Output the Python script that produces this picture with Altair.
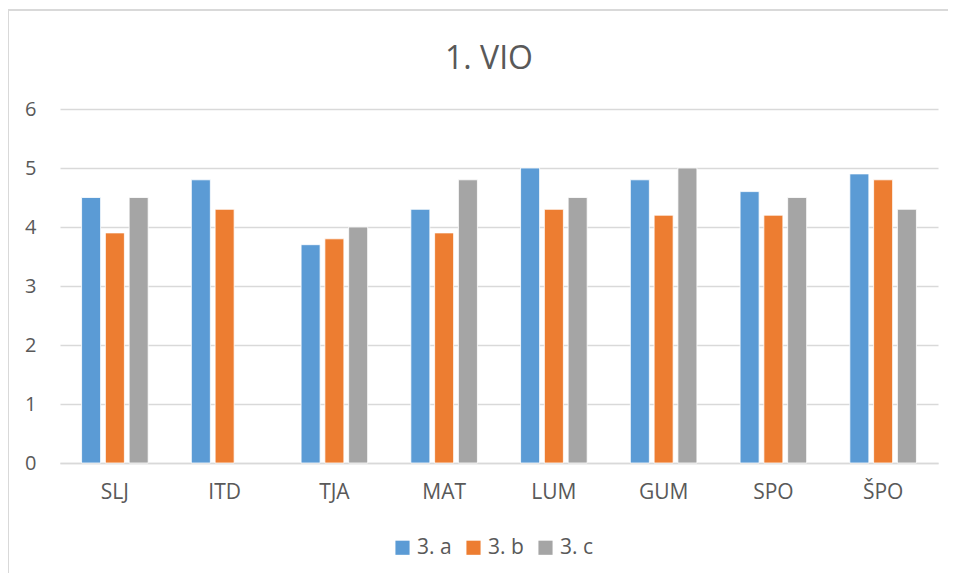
import altair as alt
import pandas as pd

categories = ["SLJ", "ITD", "TJA", "MAT", "LUM", "GUM", "SPO", "ŠPO"]
series = ["3. a", "3. b", "3. c"]
vals_a = [4.5, 4.8, 3.7, 4.3, 5.0, 4.8, 4.6, 4.9]
vals_b = [3.9, 4.3, 3.8, 3.9, 4.3, 4.2, 4.2, 4.8]
vals_c = [4.5, None, 4.0, 4.8, 4.5, 5.0, 4.5, 4.3]
colors = ["#5B9BD5", "#ED7D31", "#A5A5A5"]
y_ticks = [0, 1, 2, 3, 4, 5, 6]
title_text = "1. VIO"

rows = []
for s, vals in zip(series, [vals_a, vals_b, vals_c]):
    for c, v in zip(categories, vals):
        if v is not None:
            rows.append({"cat": c, "series": s, "value": v})
df = pd.DataFrame(rows)

FONT = "Open Sans"
TXT = "#595959"

bars = alt.Chart(df).mark_bar(stroke="white", strokeWidth=0.8).encode(
    x=alt.X("cat:N", sort=categories, title=None,
            scale=alt.Scale(paddingInner=0.35, paddingOuter=0.175),
            axis=alt.Axis(labelAngle=0, labelFontSize=21, labelColor=TXT,
                          labelFont=FONT, labelPadding=18, ticks=False,
                          domainColor="#D9D9D9", domainWidth=1.5)),
    xOffset=alt.XOffset("series:N", sort=series,
                        scale=alt.Scale(domain=series, paddingInner=0.2, paddingOuter=0.1)),
    y=alt.Y("value:Q", title=None,
            scale=alt.Scale(domain=[0, 6]),
            axis=alt.Axis(values=y_ticks, labelFontSize=20, labelColor=TXT,
                          labelFont=FONT, labelPadding=24, ticks=False, domain=False,
                          gridColor="#D9D9D9", gridWidth=1.5)),
    color=alt.Color("series:N", sort=series,
                    scale=alt.Scale(domain=series, range=colors),
                    legend=alt.Legend(title=None, orient="none", direction="horizontal",
                                      legendX=332, legendY=428,
                                      symbolType="square", symbolSize=200,
                                      symbolStrokeWidth=0, labelFontSize=21,
                                      labelColor=TXT, labelFont=FONT,
                                      columnPadding=11, labelOffset=4)),
)

one = pd.DataFrame({"k": [0]})
frame_top = alt.Chart(one).mark_rule(color="#D9D9D9", strokeWidth=2, clip=False).encode(
    x=alt.value(-53), x2=alt.value(900), y=alt.value(-99)
)
frame_left = alt.Chart(one).mark_rule(color="#D9D9D9", strokeWidth=2, clip=False).encode(
    x=alt.value(-52), y=alt.value(-100), y2=alt.value(470)
)

title = alt.Chart(pd.DataFrame({"t": [title_text]})).mark_text(
    font=FONT, fontSize=32, color=TXT, align="center", baseline="alphabetic"
).encode(
    text="t:N", x=alt.value(429), y=alt.value(-40)
)

chart = alt.layer(frame_top, frame_left, bars, title).properties(
    width=878, height=354,
    autosize=alt.AutoSizeParams(type="none"),
    padding={"left": 52, "top": 101, "right": 10, "bottom": 110},
).configure(background="white").configure_view(stroke=None)

chart.save("out.html", embed_options={"renderer": "svg", "actions": False})
